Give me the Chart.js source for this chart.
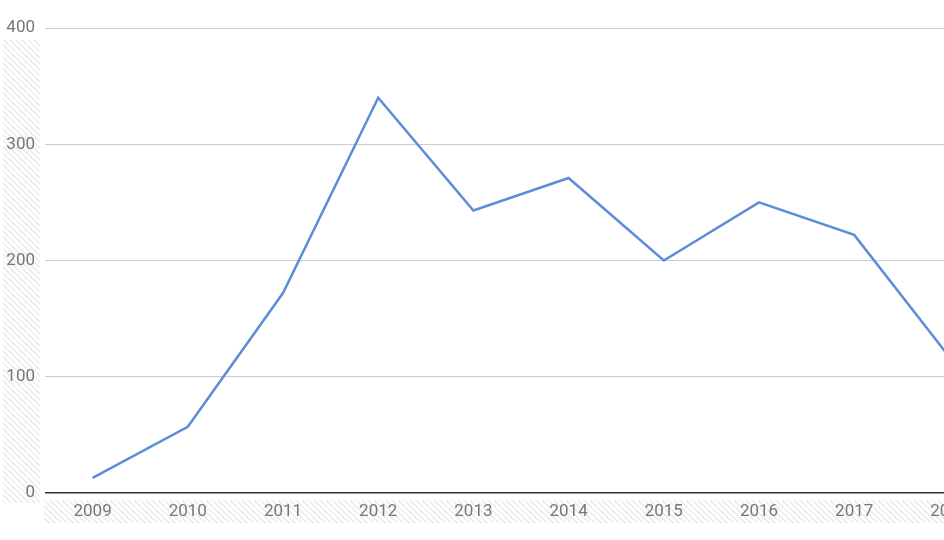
<!DOCTYPE html>
<html>
<head>
<meta charset="utf-8">
<script src="https://cdn.jsdelivr.net/npm/chart.js@4/dist/chart.umd.min.js"></script>
<style>
  html, body { margin: 0; padding: 0; background: #fff; overflow: hidden; }
  #wrap { width: 1000px; height: 540px; }
</style>
</head>
<body>
<div id="wrap"><canvas id="chart" width="1000" height="540"></canvas></div>
<script>
/* ===== chart data ===== */
var years = ['2009', '2010', '2011', '2012', '2013', '2014', '2015', '2016', '2017', '2018'];
var counts = [13, 57, 172, 340, 243, 271, 200, 250, 222, 117];
var yTicks = [0, 100, 200, 300, 400];

/* ===== hatched strips behind the axes ===== */
function makeHatch(ctx) {
    var c = document.createElement('canvas');
    c.width = 6; c.height = 6;
    var p = c.getContext('2d');
    p.strokeStyle = '#ececec';
    p.lineWidth = 1.6;
    p.beginPath();
    p.moveTo(0, 0); p.lineTo(6, 6);
    p.moveTo(-3, 3); p.lineTo(3, 9);
    p.moveTo(3, -3); p.lineTo(9, 3);
    p.stroke();
    return ctx.createPattern(c, 'repeat');
}

var hatchPlugin = {
    id: 'hatch',
    beforeDraw: function(chart) {
        var ctx = chart.ctx;
        var area = chart.chartArea;
        ctx.save();
        ctx.fillStyle = makeHatch(ctx);
        // left strip
        ctx.fillRect(3, area.top + 12, area.left - 8, area.bottom - area.top - 2);
        // bottom strip
        ctx.fillRect(area.left - 1, area.bottom + 7, area.right - area.left, 23);
        ctx.restore();
    }
};

var ctx = document.getElementById('chart');
var chart = new Chart(ctx, {
    type: 'line',
    data: {
        labels: years,
        datasets: [{
            data: counts,
            borderColor: '#5b8dd9',
            borderWidth: 2.5,
            pointRadius: 0,
            fill: false,
            tension: 0
        }]
    },
    options: {
        responsive: false,
        animation: false,
        layout: { padding: { top: 28, right: 3, left: 0, bottom: 0 } },
        plugins: { legend: { display: false }, tooltip: { enabled: false } },
        scales: {
            x: {
                offset: true,
                grid: { display: false, drawTicks: false },
                border: { display: false },
                ticks: {
                    color: '#777777',
                    font: { family: 'Roboto', size: 17 },
                    padding: 9,
                    maxRotation: 0
                },
                afterFit: function(scale) { scale.height = 47; }
            },
            y: {
                min: 0,
                max: 400,
                afterBuildTicks: function(scale) {
                    scale.ticks = yTicks.map(function(v) { return { value: v }; });
                },
                grid: {
                    drawTicks: false,
                    color: function(c) { return c.tick && c.tick.value === 0 ? '#333333' : '#cccccc'; },
                    lineWidth: function(c) { return c.tick && c.tick.value === 0 ? 1.5 : 1; }
                },
                border: { display: false },
                ticks: {
                    color: '#777777',
                    font: { family: 'Roboto', size: 17 },
                    padding: 10
                },
                afterFit: function(scale) { scale.width = 45; }
            }
        }
    },
    plugins: [hatchPlugin]
});
</script>
</body>
</html>
